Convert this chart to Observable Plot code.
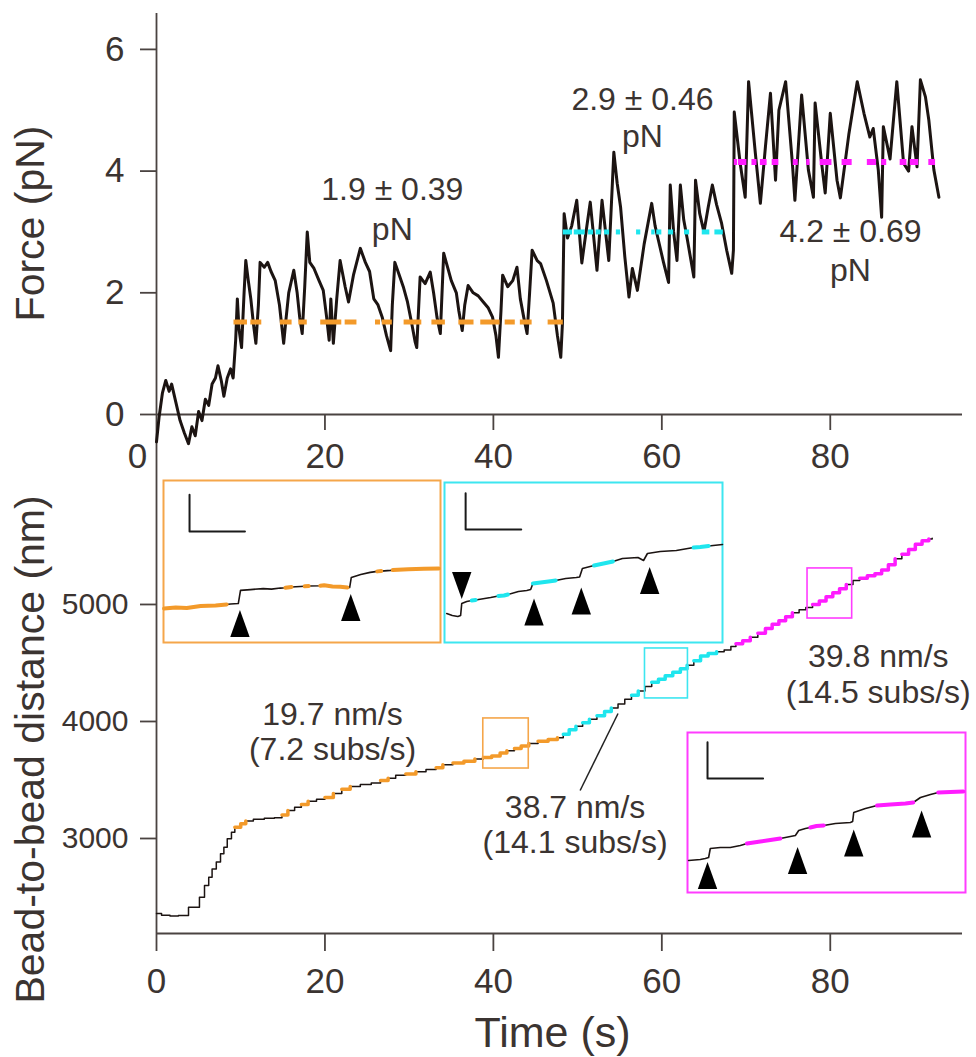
<!DOCTYPE html>
<html>
<head>
<meta charset="utf-8">
<script src="https://cdn.jsdelivr.net/npm/d3@7"></script>
<script src="https://cdn.jsdelivr.net/npm/@observablehq/plot@0.6"></script>
<style>
  body { margin: 0; background: #fff; }
  #fig { position: relative; width: 976px; height: 1057px; overflow: hidden; background: #fff; }
  #fig > div { position: absolute; }
  svg { overflow: visible; }
</style>
</head>
<body>
<div id="fig">
  <div id="top" style="left:0;top:0"></div>
  <div id="bottom" style="left:0;top:470px"></div>
  <div id="insO" style="left:162px;top:479px"></div>
  <div id="insC" style="left:443px;top:481px"></div>
  <div id="insM" style="left:686px;top:731px"></div>
</div>
<script>
// ---------------- data ----------------
const forceTicks = [0, 2, 4, 6];
const distTicks = [3000, 4000, 5000];
const timeTicksTop = [20, 40, 60, 80];
const timeTicksBottom = [0, 20, 40, 60, 80];

// force trace [time s, force pN]
const forceTrace = [
  [0.0,-0.45],[0.3,-0.05],[0.7,0.35],[1.1,0.56],[1.5,0.38],[1.8,0.5],[2.3,0.2],[2.8,-0.1],[3.3,-0.3],[3.8,-0.48],
  [4.2,-0.2],[4.6,-0.35],[5.0,0.05],[5.4,-0.1],[5.8,0.25],[6.2,0.15],[6.6,0.5],[7.0,0.6],[7.3,0.8],[7.7,0.55],
  [8.0,0.3],[8.4,0.6],[8.8,0.75],[9.1,0.6],[9.4,1.22],[9.6,1.9],[9.8,1.4],[10.1,1.1],[10.4,2.0],[10.6,2.53],
  [10.9,2.2],[11.2,1.9],[11.5,1.5],[11.8,1.17],[12.1,1.8],[12.3,2.5],[12.8,2.42],[13.2,2.5],[13.6,2.35],[14.1,2.2],
  [14.6,1.8],[15.1,1.17],[15.4,1.6],[15.7,2.0],[16.3,2.37],[16.7,2.0],[17.0,1.6],[17.3,1.33],[17.6,2.1],[17.9,3.0],
  [18.2,2.5],[18.7,2.4],[19.3,2.2],[19.8,2.04],[20.2,1.6],[20.5,1.22],[20.7,1.9],[21.0,1.17],[21.4,1.9],[21.8,2.53],
  [22.4,2.1],[22.8,1.85],[23.4,2.3],[24.2,2.73],[24.8,2.5],[25.3,2.35],[25.8,1.9],[26.3,1.8],[26.8,1.6],[27.3,1.3],
  [27.8,1.05],[28.0,1.8],[28.3,2.5],[28.8,2.3],[29.3,2.1],[29.8,1.85],[30.3,1.5],[30.7,1.2],[30.9,1.1],[31.3,2.26],
  [31.9,2.15],[32.5,2.34],[32.9,2.0],[33.3,1.6],[33.7,1.33],[34.1,2.65],[34.6,2.4],[35.0,2.2],[35.6,2.0],[35.9,1.7],
  [36.3,1.38],[36.6,1.8],[37.0,2.12],[37.6,2.0],[38.2,1.95],[38.8,1.85],[39.4,1.75],[39.9,1.6],[40.3,1.3],[40.6,0.94],
  [40.9,1.7],[41.1,2.29],[41.7,2.1],[42.3,2.2],[42.8,2.42],[43.2,1.9],[43.6,1.6],[44.0,1.33],[44.3,2.0],[44.6,2.7],
  [45.2,2.53],[45.6,2.48],[46.3,2.2],[47.1,1.83],[47.6,1.3],[48.0,0.94],[48.2,1.5],[48.4,3.3],[48.8,2.9],[49.3,3.1],
  [49.9,3.52],[50.5,2.49],[51.0,3.0],[51.5,3.49],[52.3,2.37],[52.9,3.52],[53.7,2.53],[54.3,4.31],[54.7,3.8],[55.1,3.41],
  [55.6,2.6],[56.1,1.93],[56.5,2.4],[57.1,2.04],[57.9,2.8],[58.8,3.47],[59.2,3.1],[59.6,2.86],[60.2,2.5],[60.8,2.17],
  [61.0,3.77],[61.4,3.0],[61.8,2.53],[62.2,3.77],[62.6,3.2],[63.0,2.9],[63.8,2.26],[64.0,3.85],[64.5,3.3],[65.0,3.0],
  [65.5,3.4],[66.0,3.77],[66.5,3.45],[67.1,3.14],[67.7,2.7],[68.3,2.32],[68.5,2.7],[68.6,4.97],[69.3,4.13],[69.9,3.57],
  [70.3,5.47],[71.1,4.3],[71.7,3.47],[72.3,4.4],[72.9,5.28],[73.5,3.85],[73.9,5.0],[74.7,5.47],[75.5,4.13],[75.8,3.52],
  [76.6,5.25],[77.4,4.02],[78.0,3.57],[78.2,5.12],[79.0,4.1],[79.4,3.64],[80.0,4.95],[80.8,3.85],[81.2,3.56],[82.2,4.6],
  [83.2,5.47],[84.0,4.95],[84.7,4.56],[85.1,4.7],[85.7,4.02],[86.1,3.24],[86.3,4.73],[87.1,4.2],[87.9,5.47],[88.7,4.13],
  [89.3,4.0],[89.7,4.73],[90.3,4.07],[90.7,5.5],[91.3,5.22],[91.7,4.84],[92.3,4.02],[92.9,3.57]
];

// dwell force levels (pN) and the time spans they are drawn over
const orangeLevel = 1.52, cyanLevel = 3.0, magentaLevel = 4.15;
const orangeDash = [[9.2,10.8],[11.2,12.5],[14.7,16.1],[16.9,17.9],[19.5,22.0],[22.4,23.8],[26.0,26.6],[26.8,28.0],
  [29.4,31.5],[32.7,34.3],[35.9,37.7],[38.5,40.8],[41.4,42.6],[43.2,44.6],[46.5,48.3]];
const cyanDash = [[48.3,49.4],[49.6,50.9],[51.3,51.9],[52.2,52.8],[53.2,53.8],[54.6,55.1],[57.0,57.5],[58.8,59.2],
  [59.4,60.0],[60.8,61.4],[62.7,63.3],[64.8,65.7],[66.3,67.3]];
const magentaDash = [[68.6,69.0],[69.1,70.1],[70.7,71.3],[71.7,72.5],[73.1,73.9],[75.6,76.2],[77.2,77.6],[78.8,80.2],
  [81.4,82.6],[84.4,85.5],[86.1,86.7],[88.3,89.1],[89.5,90.5],[91.7,92.5]];

// bead-to-bead distance trace [time s, nm]
const beadTrace = [
  [0,2360],[0.6,2345],[1.6,2338],[2.6,2342],[3.8,2413],[5.1,2498],[5.7,2598],[6.2,2669],[6.6,2740],[7.1,2800],
  [7.6,2869],[8.0,2926],[8.4,2997],[8.9,3054],[9.3,3097],[10.0,3125],[10.6,3150],[11.5,3165],[12.8,3172],[14.0,3178],
  [14.9,3200],[15.6,3240],[16.4,3268],[17.2,3290],[18.0,3318],[19.0,3335],[20.0,3350],[21.0,3385],[22.0,3420],[23.0,3445],
  [24.2,3462],[25.5,3475],[26.6,3495],[27.5,3515],[28.4,3540],[29.6,3552],[30.8,3570],[32.0,3590],[33.2,3605],[34.0,3630],
  [35.2,3645],[36.5,3660],[37.8,3680],[38.8,3692],[39.8,3705],[40.8,3730],[41.6,3750],[42.5,3770],[43.3,3790],[44.2,3812],
  [45.3,3830],[46.5,3845],[47.6,3860],[48.3,3890],[49.0,3930],[49.8,3960],[50.6,3990],[51.4,4020],[52.3,4050],[53.2,4085],
  [54.0,4115],[54.8,4150],[55.6,4190],[56.4,4225],[57.2,4260],[58.0,4300],[58.8,4335],[59.6,4360],[60.4,4390],[61.3,4420],
  [62.2,4450],[63.0,4480],[63.8,4520],[64.6,4560],[65.5,4580],[66.5,4595],[67.4,4610],[68.2,4640],[68.8,4665],[69.6,4690],
  [70.5,4720],[71.4,4755],[72.3,4795],[73.1,4830],[73.9,4860],[74.7,4895],[75.5,4930],[76.3,4955],[77.1,4975],[77.9,5000],
  [78.7,5030],[79.5,5065],[80.3,5100],[81.1,5135],[81.9,5170],[82.7,5205],[83.5,5225],[84.4,5245],[85.3,5262],[86.1,5295],
  [86.9,5340],[87.7,5390],[88.5,5430],[89.3,5470],[90.1,5515],[90.9,5545],[91.7,5560],[92.1,5565]
];
const orangeSegs = [[9.2,10.7],[14.7,15.7],[16.9,18.1],[19.8,21.5],[22.0,23.6],[25.8,27.6],[29.0,30.9],[32.5,34.1],
  [35.2,38.0],[38.5,41.8],[42.3,44.3],[45.2,47.8]];
const cyanSegs = [[48.3,49.8],[50.6,51.4],[52.3,54.0],[56.4,57.2],[58.8,63.0],[63.8,66.5]];
const magentaSegs = [[68.8,70.5],[71.4,75.5],[77.9,81.9],[83.5,87.7],[88.5,91.7]];

// zoom boxes [t1, t2, d1, d2]
const zoomBoxes = [
  {t1:38.8, t2:44.2, d1:3598, d2:4026, c:"orange"},
  {t1:58.0, t2:63.1, d1:4197, d2:4624, c:"cyan"},
  {t1:77.3, t2:82.6, d1:4880, d2:5308, c:"magenta"}
];

// axis titles (placed in data units, outside the frame)
const forceTitle = [{t:-14.9, f:3.14, text:"Force (pN)"}];
const distTitle = [{t:-14.9, d:3761, text:"Bead-to-bead distance (nm)"}];

// annotations
const forceNotes = [
  {t:28.0, f:3.52, text:"1.9 ± 0.39"}, {t:28.0, f:2.86, text:"pN"},
  {t:57.7, f:5.00, text:"2.9 ± 0.46"}, {t:57.7, f:4.40, text:"pN"},
  {t:82.4, f:2.83, text:"4.2 ± 0.69"}, {t:82.4, f:2.19, text:"pN"}
];
const speedNotes = [
  {t:20.9, d:3974, text:"19.7 nm/s"}, {t:20.9, d:3667, text:"(7.2 subs/s)"},
  {t:49.7, d:3179, text:"38.7 nm/s"}, {t:49.7, d:2880, text:"(14.1 subs/s)"},
  {t:85.7, d:4462, text:"39.8 nm/s"}, {t:85.7, d:4154, text:"(14.5 subs/s)"}
];
const leader = [{t1:50.3, d1:3410, t2:54.8, d2:4068}];

// insets: [time s, nm, coloured-segment id]
const insetOrange = [
  [0.01,13.4,1],[0.22,13.8,1],[0.42,13.6,1],[0.67,14.4,1],[0.94,14.6,1],[1.14,15.0,1],[1.21,15.2,0],[1.35,15.4,0],
  [1.39,20.6,0],[1.57,20.9,0],[1.80,21.3,0],[1.95,21.1,0],[2.11,21.5,0],[2.20,21.6,2],[2.31,21.9,2],[2.47,22.1,0],
  [2.55,22.2,3],[2.62,22.3,3],[2.83,22.4,4],[2.90,22.6,4],[3.05,22.1,4],[3.19,22.0,4],[3.32,21.7,4],[3.36,21.7,0],
  [3.39,25.7,0],[3.56,26.9,0],[3.73,27.7,0],[3.86,28.1,5],[3.93,28.2,5],[4.10,28.5,0],[4.14,28.6,6],[4.42,28.9,6],
  [4.70,29.1,6],[4.97,29.2,6]
];
const insetCyan = [
  [0.04,11.6,0],[0.14,10.8,0],[0.24,10.4,0],[0.29,10.8,0],[0.31,15.6,0],[0.40,16.4,0],[0.49,16.8,1],[0.56,17.0,1],
  [0.83,18.0,0],[0.97,18.6,2],[1.07,18.8,2],[1.14,19.2,2],[1.33,20.4,0],[1.48,20.8,0],[1.55,21.2,0],[1.59,23.6,3],
  [1.73,24.0,3],[1.87,24.4,3],[2.00,24.8,3],[2.18,25.6,0],[2.37,26.0,0],[2.43,26.2,0],[2.48,29.6,0],[2.69,30.8,4],
  [2.86,31.6,4],[3.03,32.4,4],[3.20,33.6,0],[3.48,34.0,0],[3.58,32.8,0],[3.65,35.6,0],[3.88,36.4,0],[4.17,36.8,0],
  [4.48,38.0,5],[4.60,38.2,5],[4.75,38.6,5],[5.0,39.2,0]
];
const insetMagenta = [
  [0.02,12.8,0],[0.23,13.2,0],[0.32,13.6,0],[0.38,14.0,0],[0.41,17.6,0],[0.59,18.0,0],[0.77,18.0,0],[0.95,18.8,0],
  [1.07,19.6,1],[1.31,20.4,1],[1.49,21.0,1],[1.67,21.6,1],[1.85,22.4,0],[1.94,22.8,0],[2.00,24.8,0],[2.12,25.6,0],
  [2.21,26.0,2],[2.32,26.6,2],[2.45,26.8,2],[2.66,27.6,0],[2.93,28.0,0],[2.97,28.4,0],[2.99,32.0,0],[3.20,33.6,0],
  [3.41,34.8,3],[3.65,35.2,3],[3.92,35.6,3],[4.06,36.0,3],[4.19,38.0,0],[4.37,39.2,0],[4.51,40.0,4],[4.73,40.2,4],
  [4.96,40.4,4]
];
// arrowheads marking steps [time s, nm]
const arrowsOrange = [[1.38,7.5],[3.38,13.8]];
const arrowsCyanDown = [[0.31,22.8]];
const arrowsCyan = [[1.61,12.2],[2.46,16.6],[3.69,24.8]];
const arrowsMagenta = [[0.36,6.8],[1.98,12.8],[2.99,19.8],[4.21,27.4]];
// scale bars [time s, nm] corner points (1 s, 14.5 nm)
const barOrange = [[0.47,58.4],[0.47,43.9],[1.47,43.9]];
const barCyan = [[0.38,59.7],[0.38,45.2],[1.38,45.2]];
const barMagenta = [[0.36,60.1],[0.36,45.6],[1.36,45.6]];

// ---------------- style ----------------
const COL = {orange: "#f39a2a", cyan: "#1fe6ee", magenta: "#ff1cff"};
const FRAME = {orange: "#f5a64a", cyan: "#3de6f0", magenta: "#ff3cff"};
const AX = "#4a4341", TXT = "#3b3431", TRACE = "#1c1412";
const FONT = "'Liberation Sans', Arial, Helvetica, sans-serif";
const tMax = 95.7;

function triangle(up) {
  return {
    draw(ctx, size) {
      const s = Math.sqrt(size / Math.PI);
      const w = s * 0.97, h = s * 2.7;
      const k = up ? 1 : -1;
      ctx.moveTo(0, -k * h / 2);
      ctx.lineTo(w, k * h / 2);
      ctx.lineTo(-w, k * h / 2);
      ctx.closePath();
    }
  };
}
const triUp = triangle(true), triDown = triangle(false);

// ---------------- top: force ----------------
const topPlot = Plot.plot({
  width: 976, height: 470,
  marginLeft: 156, marginRight: 14, marginTop: 13, marginBottom: 56,
  x: {domain: [0, tMax]},
  y: {domain: [0, 6.59]},
  style: {fontFamily: FONT, background: "transparent", overflow: "visible"},
  marks: [
    Plot.ruleX([0], {y1: -0.92, y2: 6.59, stroke: AX, strokeWidth: 1.8}),
    Plot.ruleY([0], {x1: 0, x2: tMax, stroke: AX, strokeWidth: 1.8}),
    Plot.axisY({ticks: forceTicks, tickSize: 16, tickPadding: 16, fontSize: 35, stroke: AX, fill: TXT, strokeWidth: 1.8, label: null, tickFormat: d => String(d)}),
    Plot.axisX({ticks: timeTicksTop, tickSize: 16, tickPadding: 13, fontSize: 35, stroke: AX, fill: TXT, strokeWidth: 1.8, label: null}),
    Plot.text([0], {x: d => d, frameAnchor: "bottom", text: d => String(d), dy: 29, dx: -19, lineAnchor: "top", fontSize: 35, fill: TXT}),
    Plot.text(forceTitle, {x: "t", y: "f", text: "text", rotate: -90, fontSize: 41, fill: TXT}),
    Plot.line(forceTrace, {x: d => d[0], y: d => d[1], stroke: TRACE, strokeWidth: 3, strokeLinejoin: "round"}),
    Plot.ruleY(orangeDash, {x1: d => d[0], x2: d => d[1], y: orangeLevel, stroke: COL.orange, strokeWidth: 5}),
    Plot.ruleY(cyanDash, {x1: d => d[0], x2: d => d[1], y: cyanLevel, stroke: COL.cyan, strokeWidth: 5}),
    Plot.ruleY(magentaDash, {x1: d => d[0], x2: d => d[1], y: magentaLevel, stroke: COL.magenta, strokeWidth: 6}),
    Plot.text(forceNotes, {x: "t", y: "f", text: "text", lineAnchor: "bottom", fontSize: 32, fill: TXT})
  ]
});
document.getElementById("top").append(topPlot);

// ---------------- bottom: distance ----------------
const inRanges = (ranges) => beadTrace
  .map(d => ({t: d[0], d: d[1], seg: ranges.findIndex(r => d[0] >= r[0] && d[0] <= r[1])}))
  .filter(d => d.seg >= 0);

const bottomPlot = Plot.plot({
  width: 976, height: 587,
  marginLeft: 156, marginRight: 14, marginTop: 0, marginBottom: 124,
  x: {domain: [0, tMax]},
  y: {domain: [2188, 6145]},
  style: {fontFamily: FONT, background: "transparent", overflow: "visible"},
  marks: [
    Plot.ruleX([0], {y1: 2188, y2: 6145, stroke: AX, strokeWidth: 1.8}),
    Plot.ruleY([2188], {x1: 0, x2: tMax, stroke: AX, strokeWidth: 1.8}),
    Plot.axisY({ticks: distTicks, tickSize: 16, tickPadding: 12, fontSize: 30, stroke: AX, fill: TXT, strokeWidth: 1.8, label: null, tickFormat: d => String(d)}),
    Plot.axisX({ticks: timeTicksBottom, tickSize: 18, tickPadding: 17, fontSize: 35, stroke: AX, fill: TXT, strokeWidth: 1.8, label: null}),
    Plot.text(distTitle, {x: "t", y: "d", text: "text", rotate: -90, fontSize: 41, fill: TXT}),
    Plot.text(["Time (s)"], {frameAnchor: "bottom", text: d => d, dx: -7, dy: 113, lineAnchor: "bottom", fontSize: 43, fill: TXT}),
    Plot.line(beadTrace, {x: d => d[0], y: d => d[1], curve: "step-after", stroke: TRACE, strokeWidth: 1.5}),
    Plot.line(inRanges(orangeSegs), {x: "t", y: "d", z: "seg", curve: "step-after", stroke: COL.orange, strokeWidth: 3.5}),
    Plot.line(inRanges(cyanSegs), {x: "t", y: "d", z: "seg", curve: "step-after", stroke: COL.cyan, strokeWidth: 3.5}),
    Plot.line(inRanges(magentaSegs), {x: "t", y: "d", z: "seg", curve: "step-after", stroke: COL.magenta, strokeWidth: 3.5}),
    Plot.rect(zoomBoxes, {x1: "t1", x2: "t2", y1: "d1", y2: "d2", fill: "none", stroke: d => FRAME[d.c], strokeWidth: 1.6}),
    Plot.link(leader, {x1: "t1", y1: "d1", x2: "t2", y2: "d2", stroke: "#222", strokeWidth: 1.5}),
    Plot.text(speedNotes, {x: "t", y: "d", text: "text", lineAnchor: "bottom", fontSize: 32, fill: TXT})
  ]
});
document.getElementById("bottom").append(bottomPlot);

// ---------------- insets ----------------
function inset(trace, color, bar, up, down, w, h) {
  const pts = trace.map(d => ({x: d[0], y: d[1], seg: d[2]}));
  return Plot.plot({
    width: w + 2, height: h + 2, margin: 1,
    x: {domain: [0, 5], axis: null},
    y: {domain: [0, 64], axis: null},
    style: {background: "transparent", overflow: "visible"},
    marks: [
      Plot.frame({stroke: FRAME[color], strokeWidth: 2}),
      Plot.line(bar, {x: d => d[0], y: d => d[1], stroke: "#1a1a1a", strokeWidth: 2}),
      Plot.line(pts, {x: "x", y: "y", stroke: TRACE, strokeWidth: 1.6}),
      Plot.line(pts.filter(d => d.seg > 0), {x: "x", y: "y", z: "seg", stroke: COL[color], strokeWidth: 4}),
      Plot.dot(up, {x: d => d[0], y: d => d[1], r: 10, symbol: triUp, fill: "#000", stroke: "none"}),
      Plot.dot(down, {x: d => d[0], y: d => d[1], r: 10, symbol: triDown, fill: "#000", stroke: "none"})
    ]
  });
}
document.getElementById("insO").append(inset(insetOrange, "orange", barOrange, arrowsOrange, [], 277, 162));
document.getElementById("insC").append(inset(insetCyan, "cyan", barCyan, arrowsCyan, arrowsCyanDown, 278, 160));
document.getElementById("insM").append(inset(insetMagenta, "magenta", barMagenta, arrowsMagenta, [], 278, 160));
</script>
</body>
</html>
